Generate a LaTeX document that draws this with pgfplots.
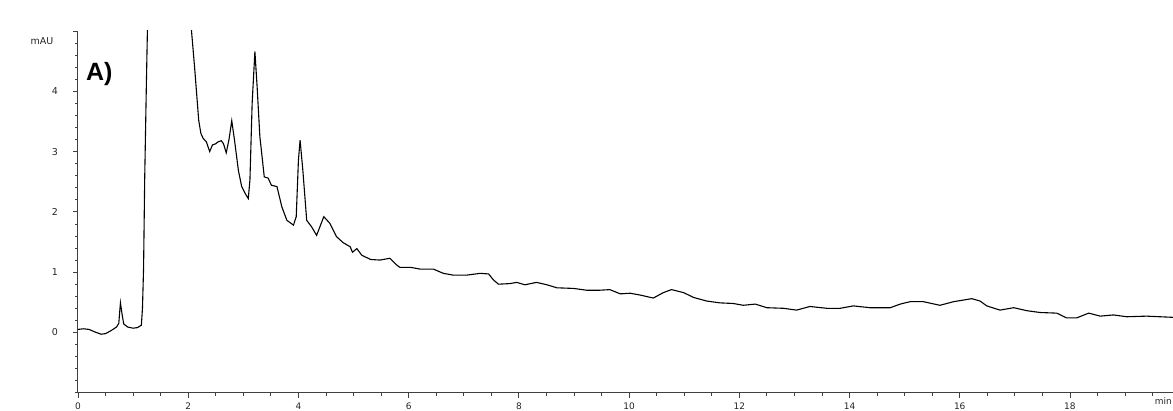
\documentclass[border=0pt]{standalone}
\usepackage{pgfplots}
\pgfplotsset{compat=1.18}
\usepackage{fontspec}
\setmainfont{DejaVu Sans}
\newfontfamily\labelfont{Liberation Sans}
\definecolor{axgray}{HTML}{404040}
\begin{document}
\begin{tikzpicture}
\begin{axis}[
  scale only axis,
  width=1095pt, height=361.7pt,
  xmin=0, xmax=19.87, ymin=-1, ymax=5,
  axis x line*=bottom, axis y line*=left,
  axis line style={axgray, line width=1pt},
  tick align=outside,
  major tick length=5pt, minor tick length=3pt,
  every tick/.style={axgray, line width=0.8pt},
  xtick={0,2,...,18},
  minor xtick={0.5,1,1.5,2.5,3,3.5,4.5,5,5.5,6.5,7,7.5,8.5,9,9.5,10.5,11,11.5,12.5,13,13.5,14.5,15,15.5,16.5,17,17.5,18.5,19,19.5},
  ytick={0,1,2,3,4},
  minor ytick={-1,-0.8,-0.6,-0.4,-0.2,0.2,0.4,0.6,0.8,1.2,1.4,1.6,1.8,2.2,2.4,2.6,2.8,3.2,3.4,3.6,3.8,4.2,4.4,4.6,4.8},
  extra y ticks={5}, extra y tick labels={},
  extra y tick style={major tick length=5pt},
  /pgf/number format/assume math mode=true,
  tick label style={font=\fontsize{9.5}{11}\selectfont, text=black!85},
  xticklabel style={anchor=north, inner sep=0pt, yshift=-5pt, font=\fontsize{9}{10}\selectfont},
  yticklabel style={anchor=east, inner sep=0pt, xshift=-15pt},
  clip=true,
]
\addplot[black, line width=1.1pt] coordinates {
(0,0.05)(0.1,0.06)(0.2,0.05)(0.3,0.01)(0.42,-0.03)(0.5,-0.02)(0.6,0.03)(0.7,0.09)(0.74,0.15)(0.77,0.49)(0.80,0.30)(0.83,0.14)(0.9,0.09)(1.0,0.07)(1.08,0.08)(1.15,0.12)(1.17,0.4)(1.19,1.07)(1.21,2.53)(1.24,4.08)(1.27,5.5)(1.35,12)(1.6,25)(1.9,10)(2.03,5.6)(2.06,5.0)(2.12,4.35)(2.19,3.52)(2.23,3.3)(2.27,3.22)(2.33,3.16)(2.39,3.0)(2.44,3.11)(2.50,3.13)(2.54,3.16)(2.60,3.18)(2.64,3.13)(2.69,2.98)(2.74,3.2)(2.79,3.51)(2.84,3.19)(2.91,2.69)(2.97,2.42)(3.03,2.31)(3.09,2.22)(3.12,2.53)(3.16,3.80)(3.21,4.66)(3.25,4.08)(3.30,3.25)(3.38,2.58)(3.45,2.56)(3.51,2.44)(3.61,2.42)(3.70,2.08)(3.79,1.86)(3.91,1.78)(3.96,1.92)(4.00,2.86)(4.03,3.19)(4.08,2.69)(4.15,1.86)(4.24,1.75)(4.33,1.61)(4.46,1.92)(4.57,1.81)(4.69,1.59)(4.81,1.49)(4.94,1.42)(4.98,1.33)(5.06,1.39)(5.15,1.28)(5.31,1.21)(5.48,1.20)(5.66,1.23)(5.78,1.12)(5.84,1.08)(6.03,1.08)(6.21,1.05)(6.45,1.05)(6.63,0.98)(6.81,0.95)(7.05,0.95)(7.30,0.98)(7.45,0.97)(7.54,0.87)(7.63,0.80)(7.84,0.81)(7.96,0.83)(8.11,0.79)(8.32,0.83)(8.51,0.79)(8.69,0.74)(8.99,0.73)(9.23,0.70)(9.47,0.70)(9.65,0.71)(9.84,0.64)(10.02,0.65)(10.20,0.62)(10.44,0.57)(10.62,0.66)(10.77,0.71)(10.99,0.66)(11.17,0.58)(11.41,0.52)(11.65,0.49)(11.89,0.48)(12.07,0.45)(12.29,0.47)(12.50,0.41)(12.80,0.40)(13.04,0.37)(13.28,0.43)(13.59,0.40)(13.83,0.40)(14.07,0.44)(14.37,0.41)(14.74,0.41)(14.92,0.47)(15.10,0.51)(15.34,0.51)(15.64,0.45)(15.89,0.51)(16.22,0.56)(16.37,0.52)(16.49,0.44)(16.73,0.37)(16.98,0.41)(17.22,0.36)(17.46,0.33)(17.76,0.32)(17.94,0.24)(18.12,0.24)(18.34,0.32)(18.55,0.27)(18.79,0.29)(19.03,0.26)(19.39,0.27)(19.87,0.25)
};
\end{axis}
\node[anchor=base west, inner sep=0pt, font=\labelfont\bfseries\fontsize{25}{30}\selectfont] at (8pt,311.7pt) {A)};
\node[anchor=center, inner sep=0pt, font=\fontsize{9.5}{11}\selectfont, text=black!85] at (-36pt,351.7pt) {mAU};
\node[anchor=north east, inner sep=0pt, font=\fontsize{9}{10}\selectfont, text=black!85] at (1094pt,-5pt) {min};
\pgfresetboundingbox
\path (-78pt,-17.3pt) rectangle (1095pt,392.7pt);
\end{tikzpicture}
\end{document}
